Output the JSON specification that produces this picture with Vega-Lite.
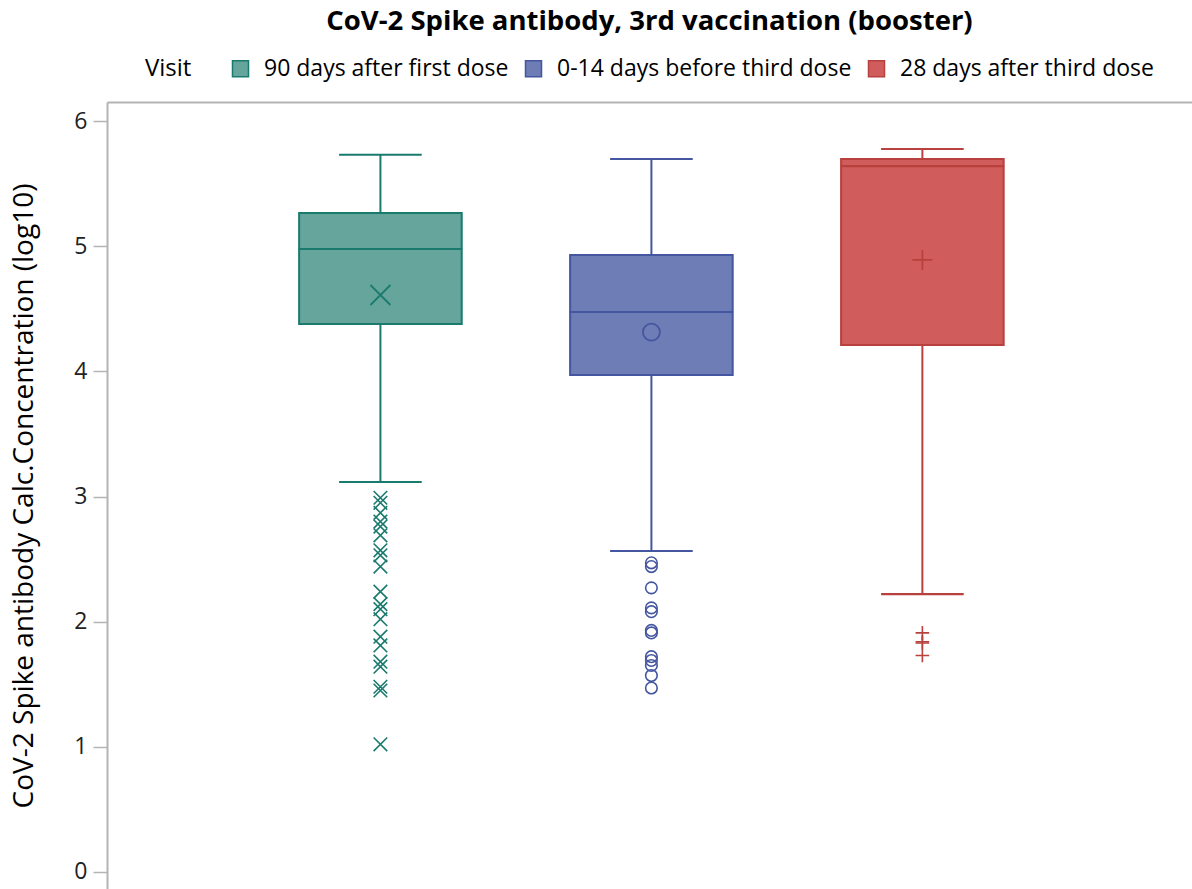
{
  "$schema": "https://vega.github.io/schema/vega-lite/v6.json",
  "width": 1085,
  "height": 787,
  "autosize": {"type": "none"},
  "padding": {"left": 107, "top": 102, "right": 0, "bottom": 0},
  "background": "white",
  "title": {
    "text": "CoV-2 Spike antibody, 3rd vaccination (booster)",
    "fontSize": 27.5,
    "fontWeight": "bold",
    "anchor": "middle",
    "color": "black",
    "offset": 22
  },
  "config": {
    "font": "Open Sans",
    "view": {"stroke": null},
    "legend": {
      "labelFontSize": 23,
      "labelColor": "black",
      "labelLimit": 500,
      "titleFontSize": 24,
      "titleFontWeight": "normal",
      "titleColor": "black",
      "symbolType": "square",
      "symbolSize": 256,
      "symbolStrokeWidth": 1.5,
      "symbolOpacity": 1
    }
  },
  "datasets": {
    "summary": [
      {"Visit": "90 days after first dose", "lower": 3.116, "q1": 4.378, "median": 4.977, "q3": 5.265, "upper": 5.73, "mean": 4.61},
      {"Visit": "0-14 days before third dose", "lower": 2.565, "q1": 3.971, "median": 4.474, "q3": 4.929, "upper": 5.696, "mean": 4.314},
      {"Visit": "28 days after third dose", "lower": 2.22, "q1": 4.21, "median": 5.64, "q3": 5.696, "upper": 5.776, "mean": 4.89}
    ],
    "outliers": [
      {"Visit": "90 days after first dose", "value": 2.99},
      {"Visit": "90 days after first dose", "value": 2.95},
      {"Visit": "90 days after first dose", "value": 2.87},
      {"Visit": "90 days after first dose", "value": 2.8},
      {"Visit": "90 days after first dose", "value": 2.76},
      {"Visit": "90 days after first dose", "value": 2.69},
      {"Visit": "90 days after first dose", "value": 2.57},
      {"Visit": "90 days after first dose", "value": 2.53},
      {"Visit": "90 days after first dose", "value": 2.44},
      {"Visit": "90 days after first dose", "value": 2.24},
      {"Visit": "90 days after first dose", "value": 2.14},
      {"Visit": "90 days after first dose", "value": 2.1},
      {"Visit": "90 days after first dose", "value": 2.02},
      {"Visit": "90 days after first dose", "value": 1.88},
      {"Visit": "90 days after first dose", "value": 1.81},
      {"Visit": "90 days after first dose", "value": 1.68},
      {"Visit": "90 days after first dose", "value": 1.64},
      {"Visit": "90 days after first dose", "value": 1.48},
      {"Visit": "90 days after first dose", "value": 1.45},
      {"Visit": "90 days after first dose", "value": 1.02},
      {"Visit": "0-14 days before third dose", "value": 2.47},
      {"Visit": "0-14 days before third dose", "value": 2.44},
      {"Visit": "0-14 days before third dose", "value": 2.27},
      {"Visit": "0-14 days before third dose", "value": 2.11},
      {"Visit": "0-14 days before third dose", "value": 2.08},
      {"Visit": "0-14 days before third dose", "value": 1.93},
      {"Visit": "0-14 days before third dose", "value": 1.91},
      {"Visit": "0-14 days before third dose", "value": 1.72},
      {"Visit": "0-14 days before third dose", "value": 1.69},
      {"Visit": "0-14 days before third dose", "value": 1.65},
      {"Visit": "0-14 days before third dose", "value": 1.57},
      {"Visit": "0-14 days before third dose", "value": 1.47},
      {"Visit": "28 days after third dose", "value": 1.91},
      {"Visit": "28 days after third dose", "value": 1.84},
      {"Visit": "28 days after third dose", "value": 1.83},
      {"Visit": "28 days after third dose", "value": 1.73}
    ]
  },
  "encoding": {
    "x": {
      "field": "Visit",
      "type": "nominal",
      "sort": ["90 days after first dose", "0-14 days before third dose", "28 days after third dose"],
      "scale": {"paddingInner": 0.4, "paddingOuter": 0.702, "align": 0.505},
      "axis": {"orient": "top", "labels": false, "ticks": false, "title": null, "domainColor": "#b4b4b4", "domainWidth": 2}
    }
  },
  "layer": [
    {
      "data": {"name": "summary"},
      "mark": {"type": "rule", "strokeWidth": 2},
      "encoding": {
        "y": {
          "field": "lower",
          "type": "quantitative",
          "scale": {"domain": [-0.136, 6.152], "nice": false, "zero": false},
          "axis": {
            "values": [0, 1, 2, 3, 4, 5, 6],
            "format": "d",
            "title": "CoV-2 Spike antibody Calc.Concentration (log10)",
            "titleFontSize": 28,
            "titleFontWeight": "normal",
            "titleColor": "black",
            "titlePadding": 35,
            "labelFontSize": 23,
            "labelColor": "#222222",
            "labelPadding": 6,
            "tickSize": 14,
            "tickColor": "#b4b4b4",
            "tickWidth": 1.5,
            "domainColor": "#b4b4b4",
            "domainWidth": 2,
            "grid": false
          }
        },
        "y2": {"field": "q1"},
        "stroke": {"field": "Visit", "type": "nominal"}
      }
    },
    {
      "data": {"name": "summary"},
      "mark": {"type": "rule", "strokeWidth": 2},
      "encoding": {
        "y": {"field": "q3", "type": "quantitative"},
        "y2": {"field": "upper"},
        "stroke": {"field": "Visit", "type": "nominal"}
      }
    },
    {
      "data": {"name": "summary"},
      "mark": {"type": "bar", "strokeWidth": 2, "opacity": 1},
      "encoding": {
        "y": {"field": "q1", "type": "quantitative"},
        "y2": {"field": "q3"},
        "fill": {
          "field": "Visit",
          "type": "nominal",
          "scale": {"domain": ["90 days after first dose", "0-14 days before third dose", "28 days after third dose"], "range": ["#66a59c", "#6e7db5", "#d05c5b"]},
          "legend": {
            "orient": "none",
            "legendX": 38,
            "legendY": -45,
            "direction": "horizontal",
            "title": "Visit",
            "titleOrient": "left",
            "titlePadding": 37,
            "labelOffset": 12,
            "columnPadding": 13
          }
        },
        "stroke": {
          "field": "Visit",
          "type": "nominal",
          "scale": {"domain": ["90 days after first dose", "0-14 days before third dose", "28 days after third dose"], "range": ["#1a7a6e", "#4556a0", "#b8413d"]},
          "legend": {
            "orient": "none",
            "legendX": 38,
            "legendY": -45,
            "direction": "horizontal",
            "title": "Visit",
            "titleOrient": "left",
            "titlePadding": 37,
            "labelOffset": 12,
            "columnPadding": 13
          }
        }
      }
    },
    {
      "data": {"name": "summary"},
      "mark": {"type": "tick", "size": 162, "thickness": 0.5, "filled": false, "strokeWidth": 1.6, "opacity": 1},
      "encoding": {
        "y": {"field": "median", "type": "quantitative"},
        "stroke": {"field": "Visit", "type": "nominal"}
      }
    },
    {
      "data": {"name": "summary"},
      "mark": {"type": "tick", "size": 81, "thickness": 0.5, "filled": false, "strokeWidth": 1.6, "opacity": 1},
      "encoding": {
        "y": {"field": "upper", "type": "quantitative"},
        "stroke": {"field": "Visit", "type": "nominal"}
      }
    },
    {
      "data": {"name": "summary"},
      "mark": {"type": "tick", "size": 81, "thickness": 0.5, "filled": false, "strokeWidth": 1.6, "opacity": 1},
      "encoding": {
        "y": {"field": "lower", "type": "quantitative"},
        "stroke": {"field": "Visit", "type": "nominal"}
      }
    },
    {
      "data": {"name": "summary"},
      "mark": {"type": "point", "filled": false, "size": 400, "strokeWidth": 1.8, "opacity": 1},
      "encoding": {
        "y": {"field": "mean", "type": "quantitative"},
        "stroke": {"field": "Visit", "type": "nominal"},
        "shape": {
          "field": "Visit",
          "type": "nominal",
          "scale": {"domain": ["28 days after third dose", "0-14 days before third dose", "90 days after first dose"], "range": ["M-1,0L1,0M0,-1L0,1", "M-0.85,0A0.85,0.85 0 1,0 0.85,0A0.85,0.85 0 1,0 -0.85,0Z", "M-1,-1L1,1M-1,1L1,-1"]},
          "legend": null
        }
      }
    },
    {
      "data": {"name": "outliers"},
      "mark": {"type": "point", "filled": false, "size": 185, "strokeWidth": 1.6, "opacity": 1},
      "encoding": {
        "y": {"field": "value", "type": "quantitative"},
        "stroke": {"field": "Visit", "type": "nominal"},
        "shape": {"field": "Visit", "type": "nominal", "legend": null}
      }
    }
  ]
}
